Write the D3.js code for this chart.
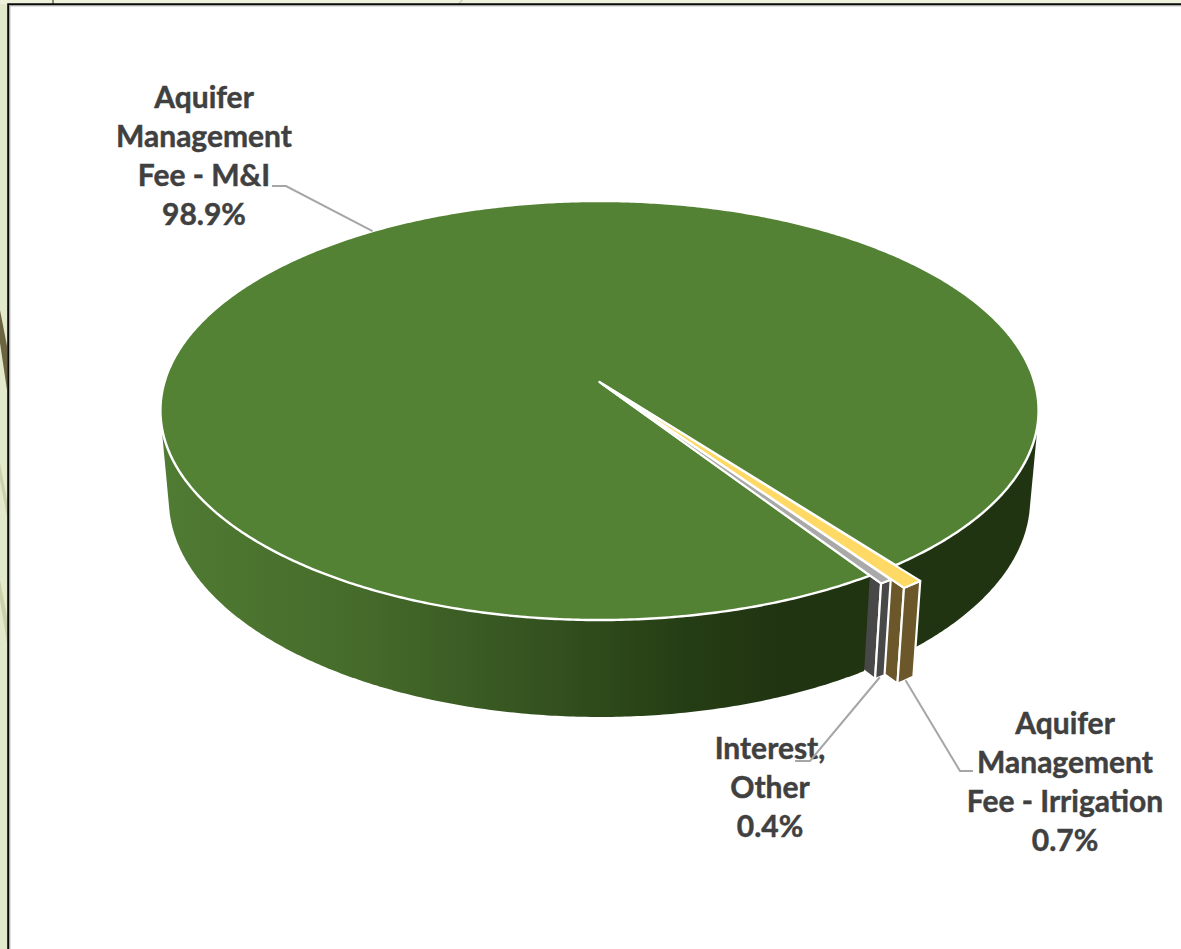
<!DOCTYPE html>
<html>
<head>
<meta charset="utf-8">
<script src="https://cdn.jsdelivr.net/npm/d3@7"></script>
<style>
  html, body { margin: 0; padding: 0; background: #e3eacb; overflow: hidden; }
  svg { display: block; }
  text { font-family: Lato, "Open Sans", sans-serif; font-weight: 700; font-size: 30px; fill: #404040; stroke: #404040; stroke-width: 0.45px; }
</style>
</head>
<body>
<svg id="chart" width="1181" height="949"></svg>
<script>
// Revenue shares, in drawing order around the pie
const categories = ["Aquifer Management Fee - Irrigation", "Interest, Other", "Aquifer Management Fee - M&I"];
const shares = [0.7, 0.4, 98.9];
const pulledOut = [0.075, 0.036, 0];
const labelLines = [
  ["Aquifer", "Management", "Fee - Irrigation"],
  ["Interest,", "Other"],
  ["Aquifer", "Management", "Fee - M&I"]
];
const topColors = ["#ffd966", "#a9a9a9", "#548235"];
const sideColors = ["#6b5729", "#484848", "#203411"];

const svg = d3.select("#chart");
const W = 1181, H = 949;
const rad = d => d * Math.PI / 180;

// Perspective projection of a unit-radius disc with a thickness (z = 0 top, z = 1 bottom)
const cam = { cx: 599.5, k: 435, a: 153.7, b: 382, c: -0.136, d: 0.0193, e: 97.6 };
function project(angle, r = 1, z = 0, shift = [0, 0]) {
  const u = r * Math.sin(angle) + shift[0];
  const v = -r * Math.cos(angle) + shift[1];
  const w = 1 + cam.c * v + cam.d * z;
  return [cam.cx + cam.k * u / w, (cam.a * v + cam.b + cam.e * z) / w];
}
const arcPoints = (a0, a1, z = 0, shift) => {
  const n = Math.max(2, Math.ceil(Math.abs(a1 - a0) / rad(0.5)));
  return d3.range(n + 1).map(i => project(a0 + (a1 - a0) * i / n, 1, z, shift));
};
const polygon = d3.line().curve(d3.curveLinearClosed);

const slices = d3.pie().sort(null).value(d => d)
  .startAngle(rad(142.6)).endAngle(rad(142.6 + 360))(shares);
const shiftOf = s => {
  const mid = (s.startAngle + s.endAngle) / 2;
  const e = pulledOut[s.index];
  return [e * Math.sin(mid), -e * Math.cos(mid)];
};
// A pulled-out slice keeps its point close to the pie's centre
const apexOf = (s, z = 0) => {
  const [sx, sy] = shiftOf(s);
  return project(0, 0, z, [sx * 0.35, sy * 0.35]);
};
const [irrigation, interest, mi] = slices;

// Page strip and frame
svg.append("rect").attr("width", W).attr("height", 4).attr("fill", "#eef2da");
svg.append("rect").attr("x", 52).attr("width", 2).attr("height", 4).attr("fill", "#8f8a70");
svg.append("path").attr("d", "M458,4L461,0L463,0L460,4Z").attr("fill", "#cfd0bd");
const streaks = [
  { d: "M0,310L0,343L7,390L7,346Z", fill: "#6c6440" },
  { d: "M0,463L0,480L7,517L7,500Z", fill: "#ccd1ac" },
  { d: "M0,580L0,600L7,643L7,617Z", fill: "#ccd1ac" }
];
svg.selectAll("path.streak").data(streaks).join("path").attr("class", "streak")
  .attr("d", d => d.d).attr("fill", d => d.fill);
svg.append("rect").attr("x", 8).attr("y", 4).attr("width", W).attr("height", H)
  .attr("fill", "#ffffff");
svg.append("path").attr("d", `M${W},4.2H8.2V${H}`).attr("fill", "none").attr("stroke", "#0a0a0a").attr("stroke-width", 2);
svg.append("path").attr("d", `M${W},5.8H9.8V${H}`).attr("fill", "none").attr("stroke", "#9a9a9a").attr("stroke-width", 1);

// Wall shading runs from lit green on the left to deep shadow on the right
const defs = svg.append("defs");
const gradient = defs.append("linearGradient").attr("id", "wallShade")
  .attr("gradientUnits", "userSpaceOnUse")
  .attr("x1", 165).attr("x2", 780).attr("y1", 0).attr("y2", 0);
[[0, "#507b33"], [0.3, "#466c2b"], [0.6, "#355320"], [0.85, "#253d14"], [1, "#203411"]]
  .forEach(([o, c]) => gradient.append("stop").attr("offset", o).attr("stop-color", c));

const wallHull = (a0, a1) => d3.polygonHull(arcPoints(a0, a1, 0).concat(arcPoints(a0, a1, 1)));

// Right wall of the large slice sits behind the pulled-out slices
svg.append("path")
  .attr("d", polygon(wallHull(rad(50), mi.endAngle - 2 * Math.PI)))
  .attr("fill", sideColors[2]);

// Side faces of the pulled-out slices
function drawFaces(s, color) {
  const shift = shiftOf(s);
  const g = svg.append("g").attr("fill", color).attr("stroke", "#fff")
    .attr("stroke-width", 2.2).attr("stroke-linejoin", "round");
  const tipTop = project(s.endAngle, 1, 0, shift), tipBot = project(s.endAngle, 1, 1, shift);
  g.append("path").attr("d", polygon([apexOf(s, 0), tipTop, tipBot, apexOf(s, 1)]));
  g.append("path").attr("d", polygon(
    arcPoints(s.startAngle, s.endAngle, 0, shift).concat(arcPoints(s.endAngle, s.startAngle, 1, shift))
  ));
}
drawFaces(irrigation, sideColors[0]);
drawFaces(interest, sideColors[1]);

// Left and front wall of the large slice
svg.append("path")
  .attr("d", polygon(wallHull(mi.startAngle, rad(300))))
  .attr("fill", "url(#wallShade)");

// Open notch left by the pulled-out slices
svg.append("path")
  .attr("d", polygon([project(0, 0), ...arcPoints(irrigation.startAngle, interest.endAngle, 0)]))
  .attr("fill", "#fff");

// Top faces
function drawTop(s, color, width) {
  svg.append("path")
    .attr("d", polygon([apexOf(s), ...arcPoints(s.startAngle, s.endAngle, 0, shiftOf(s))]))
    .attr("fill", color).attr("stroke", "#fff").attr("stroke-width", width).attr("stroke-linejoin", "round");
}
drawTop(mi, topColors[2], 2.4);
drawTop(irrigation, topColors[0], 2);
drawTop(interest, topColors[1], 2);

// Callouts: where each label sits and how its leader bends
const callouts = [
  { x: 1065, y: 734, from: s => project((s.startAngle + s.endAngle) / 2, 1, 1, shiftOf(s)), elbow: [960, 771], end: [973, 771] },
  { x: 770, y: 759, from: s => project((s.startAngle + s.endAngle) / 2, 1, 1, shiftOf(s)), elbow: [810, 761], end: [795, 761] },
  { x: 204, y: 108, from: s => project((s.startAngle + s.endAngle) / 2, 1, 0), elbow: [286, 186], end: [272, 186] }
];
const leader = d3.line();
slices.forEach((s, i) => {
  const c = callouts[i];
  const t = svg.append("text").attr("text-anchor", "middle");
  labelLines[i].concat(d3.format(".1f")(shares[i]) + "%").forEach((line, j) => {
    t.append("tspan").attr("x", c.x).attr("y", c.y + j * 39).text(line);
  });
  svg.append("path")
    .attr("d", leader([c.from(s), c.elbow, c.end]))
    .attr("fill", "none").attr("stroke", "#a6a6a6").attr("stroke-width", 2);
});
</script>
</body>
</html>
